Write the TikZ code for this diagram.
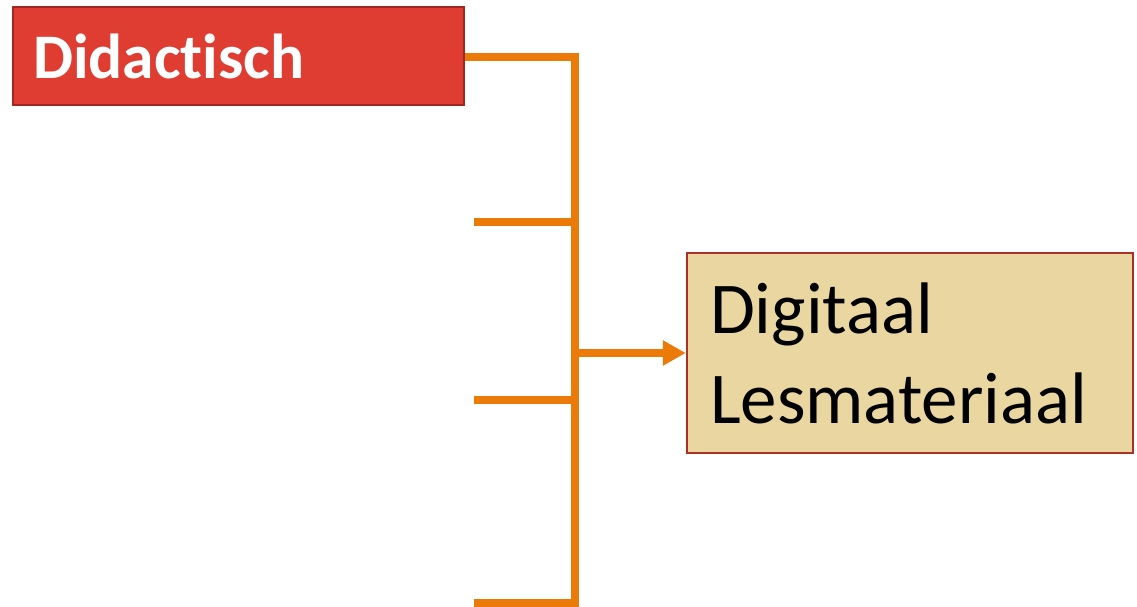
\documentclass[tikz,border=0pt]{standalone}
\usepackage{fontspec}
\setmainfont{Carlito}[Ligatures=NoCommon]
\usetikzlibrary{arrows.meta}
\definecolor{redfill}{RGB}{224,61,50}
\definecolor{redborder}{RGB}{160,40,34}
\definecolor{paper}{RGB}{234,214,160}
\definecolor{paperborder}{RGB}{172,48,38}
\definecolor{conn}{RGB}{236,122,8}
\tikzset{
  redbox/.style={draw=redborder, line width=2.5pt, fill=redfill, minimum width=451pt, minimum height=98pt,
    text width=411pt, align=left, inner xsep=20pt, inner ysep=0pt, text=white,
    font=\fontsize{63.5}{70}\selectfont\bfseries},
  paperbox/.style={draw=paperborder, line width=2.5pt, fill=paper, minimum width=446pt, minimum height=200pt,
    text width=400pt, align=left, inner xsep=22pt, inner ysep=0pt, text=black,
    font=\fontsize{73}{90}\selectfont},
  connline/.style={draw=conn, line width=8pt},
  connarrow/.style={connline, -{Triangle[length=23pt,width=24pt]}}
}
\begin{document}
\begin{tikzpicture}[x=1pt,y=-1pt]
\useasboundingbox (0,0) rectangle (1137,606);
\node[redbox] (did) at (238.5,56) {Didactisch};
\node[paperbox] (dlm) at (910,353) {Digitaal\\Lesmateriaal};
\coordinate (top) at (575,57);
\coordinate (bot) at (575,603);
\coordinate (b1) at (474,222);
\coordinate (b2) at (474,400);
\coordinate (b3) at (474,603);
\coordinate (j1) at (575,222);
\coordinate (j2) at (575,400);
\coordinate (jm) at (575,353);
\draw[connline] (did.east |- top) -- (top) -- (bot) -- (b3);
\draw[connline] (b1) -- (j1);
\draw[connline] (b2) -- (j2);
\draw[connarrow] (jm) -- (dlm.west);
\end{tikzpicture}
\end{document}
